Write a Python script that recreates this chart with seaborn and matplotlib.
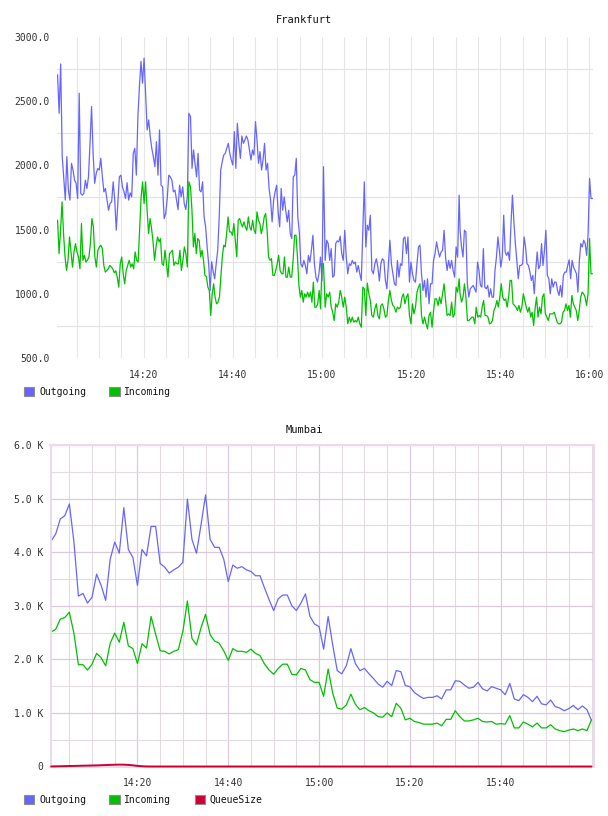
import numpy as np
import pandas as pd
import seaborn as sns
import matplotlib.pyplot as plt
import matplotlib.dates as mdates
from matplotlib.patches import Patch
from matplotlib.ticker import FixedLocator, FuncFormatter

# Frankfurt, read in four blocks of ~30 minutes (values in bytes/s)
fra_out_a = [2706, 2406, 2790, 2070, 1900, 1730, 2068, 1807, 1730, 2016, 1964, 1885, 1860, 1742, 2562,
             1781, 1768, 1781, 1885, 1820, 1911, 2172, 2458, 2094, 1860, 1937, 1976, 1964, 2055, 1911,
             1794, 1820, 1730, 1651, 1703, 1716, 1872, 1730, 1495, 1703, 1911, 1924, 1833, 1794, 1742,
             1865, 1730, 1786, 1755, 2094, 2133, 1924, 2380, 2615, 2810, 2641, 2836, 2562, 2276, 2354,
             2224, 2133, 2068, 1990, 2185, 1924, 2276, 1846, 1833, 1586, 1625, 1742, 1924, 1911, 1885,
             1794, 1807, 1730, 1656, 1846, 1755, 1833, 1703, 1656, 1755, 2406]
fra_in_a = [1573, 1313, 1495, 1716, 1469, 1287, 1183, 1261, 1443, 1326, 1208, 1326, 1391, 1326, 1287,
            1195, 1547, 1261, 1300, 1247, 1261, 1287, 1391, 1586, 1521, 1287, 1208, 1339, 1365, 1378,
            1352, 1221, 1169, 1182, 1195, 1221, 1208, 1195, 1163, 1179, 1130, 1052, 1234, 1287, 1156,
            1078, 1182, 1221, 1261, 1208, 1234, 1195, 1326, 1261, 1247, 1495, 1755, 1872, 1703, 1872,
            1651, 1469, 1586, 1508, 1404, 1261, 1365, 1443, 1404, 1430, 1234, 1221, 1339, 1234, 1130,
            1313, 1326, 1339, 1221, 1247, 1234, 1234, 1339, 1182, 1261, 1365, 1313, 1208, 1872]
fra_out_b = [2380, 1977, 2120, 2016, 1911, 2094, 1807, 1794, 1872, 1599, 1521, 1365, 1234, 1026, 1250,
             1172, 1117, 1234, 1339, 1599, 1964, 2029, 2081, 2094, 2133, 2172, 2094, 2042, 2003, 2263,
             1977, 2328, 2172, 2055, 2229, 2172, 2198, 2229, 2198, 2120, 2042, 2120, 2081, 2341, 2198,
             2016, 2107, 1964, 2042, 2172, 1964, 2016, 1820, 1729, 1560, 1729, 1794, 1846, 1638, 1521,
             1820, 1651, 1755, 1651, 1560, 1651, 1469, 1430, 1911, 1924, 2055, 1599, 1482, 1234, 1208,
             1260, 1221, 1156, 1299, 1247, 1339, 1456, 1234, 1130, 1091, 1156, 1286, 1104, 1990]
fra_in_b = [1833, 1651, 1365, 1469, 1313, 1430, 1417, 1287, 1339, 1261, 1143, 1135, 1052, 1026, 831,
            1000, 1078, 974, 922, 935, 974, 1130, 1287, 1378, 1365, 1469, 1599, 1482, 1482, 1456,
            1547, 1417, 1287, 1573, 1586, 1547, 1521, 1560, 1521, 1495, 1599, 1521, 1495, 1573, 1495,
            1469, 1638, 1573, 1547, 1469, 1521, 1599, 1625, 1495, 1287, 1261, 1274, 1143, 1143, 1182,
            1234, 1300, 1182, 1156, 1156, 1287, 1130, 1130, 1208, 1130, 1130, 1261, 1456, 1456, 1287,
            1065, 974, 1026, 935, 1000, 974, 1013, 974, 1013, 935, 1091, 896, 896, 922, 1026,
            883, 1234, 1234]
fra_out_c = [1260, 1417, 1391, 1260, 1352, 1130, 1143, 1391, 1412, 1404, 1448, 1313, 1260, 1495, 1286,
             1156, 1234, 1221, 1260, 1234, 1247, 1169, 1221, 1156, 1104, 1495, 1872, 1365, 1534, 1495,
             1612, 1182, 1156, 1234, 1273, 1208, 1099, 1234, 1273, 1260, 1104, 1039, 1234, 1417, 1234,
             1156, 1078, 1065, 1260, 1130, 1234, 1221, 1430, 1443, 1313, 1443, 1091, 1247, 1156, 1104,
             1091, 1234, 1365, 1378, 1156, 1026, 1104, 974, 1117, 922, 1078, 1078, 1260, 1313, 1404,
             1339, 1286, 1326, 1339, 1495, 1286, 1182, 1260, 1198, 1260, 1182, 1130, 1365, 1286, 1768]
fra_in_c = [896, 1000, 974, 1013, 896, 857, 792, 922, 896, 935, 1026, 974, 896, 974, 896,
            766, 818, 779, 818, 779, 792, 779, 818, 766, 740, 1052, 1039, 831, 1083, 1000,
            948, 831, 818, 883, 922, 831, 805, 909, 922, 883, 818, 831, 948, 1026, 948,
            909, 896, 857, 896, 883, 896, 974, 1000, 922, 974, 1000, 831, 766, 922, 844,
            896, 1013, 1052, 1078, 831, 766, 818, 766, 727, 831, 857, 740, 870, 961, 961,
            909, 974, 922, 1000, 1078, 948, 831, 844, 831, 935, 818, 844, 1052, 1013, 1117]
fra_out_d = [1495, 1365, 1286, 1495, 1482, 1078, 974, 1039, 1052, 1065, 1039, 1013, 1247, 1182, 1065,
             1052, 1352, 1052, 1039, 1065, 974, 1039, 974, 974, 1182, 1286, 1443, 1339, 1208, 1286,
             1612, 1326, 1299, 1326, 1260, 1547, 1768, 1560, 1391, 1260, 1117, 1221, 1221, 1234, 1443,
             1365, 1234, 1221, 1169, 1104, 1143, 1000, 1182, 1326, 1195, 1221, 1391, 1221, 1339, 1495,
             1143, 1117, 1000, 1117, 1052, 1091, 1091, 1026, 987, 1065, 974, 1143, 1169, 1169, 1221,
             1265, 1117, 1260, 1208, 1182, 1156, 1013, 1260, 1391, 1365, 1417, 1391, 1299, 1469, 1898,
             1742, 1742]
fra_in_d = [1000, 935, 974, 1078, 974, 792, 792, 805, 818, 818, 766, 896, 818, 831, 818,
            896, 948, 831, 831, 818, 766, 771, 792, 870, 896, 948, 896, 974, 1078, 974,
            948, 961, 896, 974, 1104, 1104, 922, 909, 896, 870, 909, 857, 896, 1000, 948,
            896, 857, 896, 818, 857, 753, 883, 974, 818, 896, 844, 974, 1000, 844, 818,
            792, 844, 844, 844, 857, 818, 779, 766, 766, 779, 857, 870, 922, 870, 909,
            818, 987, 922, 896, 870, 792, 870, 974, 1013, 1000, 974, 909, 1000, 1430, 1156, 1156]
# minutes after 14:00 covered by each block
fra_spans = [(0.73, 30.17), (30.54, 60.36), (60.74, 90.78), (90.99, 120.68)]

# Mumbai, one sample per minute from 14:01 to 16:00 (values in K)
mum_out = [4.21, 4.34, 4.62, 4.68, 4.90, 4.20, 3.18, 3.23, 3.05, 3.16, 3.59, 3.38, 3.10, 3.87, 4.19,
           3.98, 4.83, 4.05, 3.90, 3.38, 4.05, 3.93, 4.48, 4.48, 3.79, 3.72, 3.61, 3.67, 3.72, 3.81,
           4.99, 4.24, 3.98, 4.51, 5.07, 4.24, 4.09, 4.09, 3.87, 3.45, 3.76,
           3.70, 3.73, 3.67, 3.64, 3.56, 3.56, 3.33, 3.11, 2.91, 3.13, 3.20, 3.20, 3.00, 2.91, 3.05,
           3.22, 2.80, 2.66, 2.61, 2.19, 2.80, 2.27, 1.79, 1.73, 1.88, 2.20, 1.92, 1.79, 1.83, 1.73,
           1.64, 1.54, 1.48, 1.59, 1.51, 1.79, 1.77, 1.51, 1.49, 1.38, 1.32, 1.27,
           1.29, 1.29, 1.32, 1.26, 1.43, 1.43, 1.60, 1.59, 1.52, 1.46, 1.48, 1.57, 1.45, 1.41, 1.49,
           1.46, 1.43, 1.34, 1.55, 1.26, 1.23, 1.34, 1.29, 1.21, 1.31, 1.17, 1.15, 1.24, 1.12, 1.09,
           1.04, 1.08, 1.14, 1.06, 1.13, 1.06, 0.86]
mum_in = [2.51, 2.56, 2.75, 2.78, 2.88, 2.49, 1.90, 1.90, 1.80, 1.91, 2.11, 2.03, 1.88, 2.30, 2.49,
          2.32, 2.69, 2.25, 2.20, 1.92, 2.29, 2.21, 2.80, 2.47, 2.16, 2.15, 2.10, 2.15, 2.18, 2.52,
          3.09, 2.39, 2.27, 2.59, 2.84, 2.46, 2.34, 2.30, 2.16, 1.98, 2.20,
          2.15, 2.15, 2.13, 2.19, 2.11, 2.07, 1.91, 1.80, 1.72, 1.83, 1.91, 1.91, 1.72, 1.71, 1.83,
          1.80, 1.62, 1.57, 1.57, 1.31, 1.82, 1.37, 1.09, 1.07, 1.15, 1.35, 1.16, 1.06, 1.10, 1.04,
          1.00, 0.93, 0.92, 1.00, 0.93, 1.18, 1.09, 0.87, 0.90, 0.84, 0.82, 0.79,
          0.79, 0.79, 0.81, 0.76, 0.88, 0.88, 1.04, 0.93, 0.85, 0.85, 0.87, 0.90, 0.84, 0.83, 0.84,
          0.79, 0.80, 0.79, 0.95, 0.72, 0.72, 0.83, 0.79, 0.74, 0.81, 0.72, 0.72, 0.78, 0.70, 0.67,
          0.65, 0.68, 0.70, 0.67, 0.70, 0.67, 0.87]
mum_queue = [1, 3, 5, 7, 9, 11, 13, 15, 17, 19, 21, 24, 27, 30, 33, 35, 34, 30, 22, 12, 5, 1] + [0] * 98

fra_ticks = ["14:20", "14:40", "15:00", "15:20", "15:40", "16:00"]
mum_ticks = ["14:20", "14:40", "15:00", "15:20", "15:40"]

colors = {"Outgoing": "#6666ff", "Incoming": "#00c000", "QueueSize": "#cc0033"}

day = pd.Timestamp("2024-01-01 14:00")


def at(minutes):
    return day + pd.to_timedelta(minutes, unit="min")


def block(values, span, name):
    t = at(np.linspace(span[0], span[1], len(values)))
    return pd.DataFrame({"time": t, "value": values, "series": name})


fra = pd.concat(
    [block(v, s, "Outgoing") for v, s in zip([fra_out_a, fra_out_b, fra_out_c, fra_out_d], fra_spans)]
    + [block(v, s, "Incoming") for v, s in zip([fra_in_a, fra_in_b, fra_in_c, fra_in_d], fra_spans)],
    ignore_index=True)

mum_time = at(np.arange(1, 121))
mum = pd.concat([
    pd.DataFrame({"time": mum_time, "value": np.array(mum_out) * 1000, "series": "Outgoing"}),
    pd.DataFrame({"time": mum_time, "value": np.array(mum_in) * 1000, "series": "Incoming"}),
    pd.DataFrame({"time": mum_time, "value": mum_queue, "series": "QueueSize"}),
], ignore_index=True)

sns.set_theme(style="white")
plt.rcParams["font.family"] = ["DejaVu Sans Mono"]
txt = "#333333"

W, H = 608, 816
fig = plt.figure(figsize=(W / 100, H / 100), dpi=100)


def legend(names, y):
    handles = [Patch(facecolor=colors[n], edgecolor="#8c8c8c", linewidth=0.8, label=n) for n in names]
    fig.legend(handles=handles, loc="center left", bbox_to_anchor=(24 / W, 1 - y / H),
               ncol=len(names), frameon=False, fontsize=7, handlelength=1.05, handleheight=1.05,
               handletextpad=0.5, columnspacing=2.4, borderpad=0, borderaxespad=0, labelcolor="#111111")


def time_axis(ax, ticks):
    ax.xaxis.set_major_locator(FixedLocator(mdates.date2num([at(int(t[:2]) * 60 + int(t[3:]) - 840) for t in ticks])))
    ax.xaxis.set_major_formatter(mdates.DateFormatter("%H:%M"))
    ax.xaxis.set_minor_locator(mdates.MinuteLocator(byminute=range(0, 60, 5)))
    ax.tick_params(which="both", length=0, labelsize=7, labelcolor=txt)


# ---- Frankfurt ----
ax1 = fig.add_axes([57 / W, 1 - 358 / H, 536 / W, 321 / H])
sns.lineplot(data=fra, x="time", y="value", hue="series", hue_order=["Outgoing", "Incoming"],
             palette=colors, linewidth=0.9, estimator=None, legend=False, ax=ax1)
ax1.set_xlim(at(0.6), at(120.8))
ax1.set_ylim(500, 3000)
time_axis(ax1, fra_ticks)
ax1.set_yticks([500, 1000, 1500, 2000, 2500, 3000])
ax1.yaxis.set_minor_locator(FixedLocator([750, 1250, 1750, 2250, 2750]))
ax1.yaxis.set_major_formatter(FuncFormatter(lambda v, p: f"{v:.1f}"))
ax1.tick_params(axis="x", pad=9)
ax1.tick_params(axis="y", pad=5)
ax1.grid(False)
ax1.grid(axis="x", which="both", color="#e6e6e6", linewidth=0.8)
ax1.grid(axis="y", which="minor", color="#e4e4e4", linewidth=0.9)
ax1.set_axisbelow(True)
for s in ax1.spines.values():
    s.set_visible(False)
ax1.set_xlabel("")
ax1.set_ylabel("")
fig.text(0.5, 1 - 20 / H, "Frankfurt", ha="center", va="center", fontsize=7.5, color="#111111")
legend(["Outgoing", "Incoming"], 392)

# ---- Mumbai ----
ax2 = fig.add_axes([50.5 / W, 1 - 766.5 / H, 543.5 / W, 321.5 / H])
sns.lineplot(data=mum, x="time", y="value", hue="series", hue_order=["Outgoing", "Incoming", "QueueSize"],
             palette=colors, linewidth=0.9, estimator=None, legend=False, ax=ax2)
queue_line = ax2.lines[-1]
queue_line.set_linewidth(1.4)
queue_line.set_zorder(3)
queue_line.set_clip_on(False)
ax2.set_xlim(at(0.85), at(120.55))
ax2.set_ylim(0, 6000)
time_axis(ax2, mum_ticks)
ax2.set_yticks([0, 1000, 2000, 3000, 4000, 5000, 6000])
ax2.yaxis.set_minor_locator(FixedLocator([500, 1500, 2500, 3500, 4500, 5500]))
ax2.yaxis.set_major_formatter(FuncFormatter(lambda v, p: "0" if v == 0 else f"{v / 1000:.1f} K"))
ax2.tick_params(axis="x", pad=8)
ax2.tick_params(axis="y", pad=5)
ax2.grid(False)
ax2.grid(which="major", color="#dccadc", linewidth=0.9)
ax2.grid(which="minor", color="#e2dce2", linewidth=0.8)
ax2.set_axisbelow(True)
for s in ax2.spines.values():
    s.set_visible(True)
    s.set_color("#eadaea")
    s.set_linewidth(1.5)
ax2.set_xlabel("")
ax2.set_ylabel("")
fig.text(0.5, 1 - 430 / H, "Mumbai", ha="center", va="center", fontsize=7.5, color="#111111")
legend(["Outgoing", "Incoming", "QueueSize"], 800)

fig.savefig("out.png", dpi=100)
